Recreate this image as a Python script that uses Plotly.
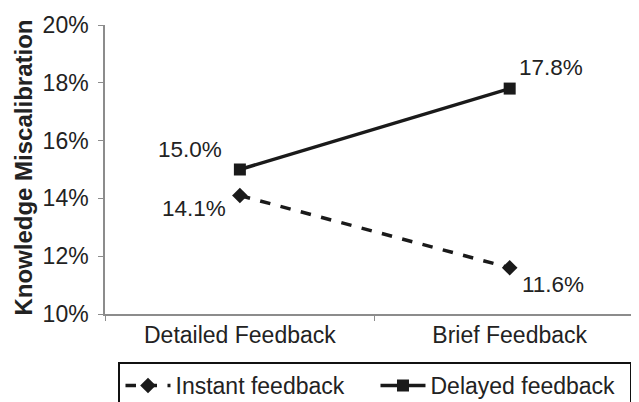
import plotly.graph_objects as go

categories = ["Detailed Feedback", "Brief Feedback"]
instant = [0.141, 0.116]
delayed = [0.150, 0.178]
instant_labels = ["14.1%", "11.6%"]
delayed_labels = ["15.0%", "17.8%"]
y_ticks = [0.10, 0.12, 0.14, 0.16, 0.18, 0.20]
y_tick_labels = ["10%", "12%", "14%", "16%", "18%", "20%"]

# page body has an 8px margin; work in figure pixel coordinates
W, H = 639, 402
L, R, T, B = 96.5, 0, 17, 96
pw, ph = W - L - R, H - T - B

def px_x(p):
    return (p - L) / pw

def px_y(p):
    return (H - B - p) / ph

dark = "#1a1a1a"
txt = "#222222"
font = "Liberation Sans, Arial, sans-serif"

fig = go.Figure()
fig.add_trace(go.Scatter(
    x=categories, y=instant, name="Instant feedback",
    mode="lines+markers",
    line=dict(color=dark, width=3.5, dash="dash"),
    marker=dict(symbol="diamond", size=12, color=dark),
    cliponaxis=False,
))
fig.add_trace(go.Scatter(
    x=categories, y=delayed, name="Delayed feedback",
    mode="lines+markers",
    line=dict(color=dark, width=3.5),
    marker=dict(symbol="square", size=12, color=dark),
    cliponaxis=False,
))

annotations = []
inst_offsets = [(-46, -13), (43, -17)]
del_offsets = [(-50, 20), (41, 21)]
for cat, val, lab, (dx, dy) in zip(categories, instant, instant_labels, inst_offsets):
    annotations.append(dict(x=cat, y=val, text=lab, xref="x", yref="y", showarrow=False,
                            xshift=dx, yshift=dy, font=dict(size=22.5, color=txt, family=font)))
for cat, val, lab, (dx, dy) in zip(categories, delayed, delayed_labels, del_offsets):
    annotations.append(dict(x=cat, y=val, text=lab, xref="x", yref="y", showarrow=False,
                            xshift=dx, yshift=dy, font=dict(size=22.5, color=txt, family=font)))
annotations.append(dict(
    text="<b>Knowledge Miscalibration</b>", textangle=-90,
    xref="paper", yref="paper", x=px_x(14), y=px_y(160),
    xanchor="center", yanchor="middle",
    showarrow=False, font=dict(size=24, color=txt, family=font),
))

fig.update_layout(
    width=W, height=H,
    margin=dict(l=L, r=R, t=T, b=B, autoexpand=False),
    paper_bgcolor="white", plot_bgcolor="white",
    font=dict(family=font, size=23, color=txt),
    showlegend=True,
    legend=dict(
        orientation="h", x=px_x(110), y=px_y(354), xanchor="left", yanchor="top",
        bordercolor="#111", borderwidth=2, font=dict(size=23, color=txt),
        itemwidth=45, entrywidth=195, entrywidthmode="pixels",
    ),
    xaxis=dict(
        type="category", range=[-0.5, 1.509], showgrid=False,
        showline=True, linecolor="#8c8c8c", linewidth=1.5,
        ticks="outside", tickson="boundaries", ticklen=5, tickcolor="#8c8c8c",
        tickfont=dict(size=23, color=txt),
    ),
    yaxis=dict(
        range=[0.10, 0.20], tickvals=y_ticks, ticktext=y_tick_labels,
        showgrid=False, zeroline=False,
        showline=True, linecolor="#8c8c8c", linewidth=1.5,
        ticks="outside", ticklen=5, tickcolor="#8c8c8c",
        ticklabelstandoff=5,
        tickfont=dict(size=23, color=txt),
    ),
    annotations=annotations,
)

fig.write_html("out.html")
